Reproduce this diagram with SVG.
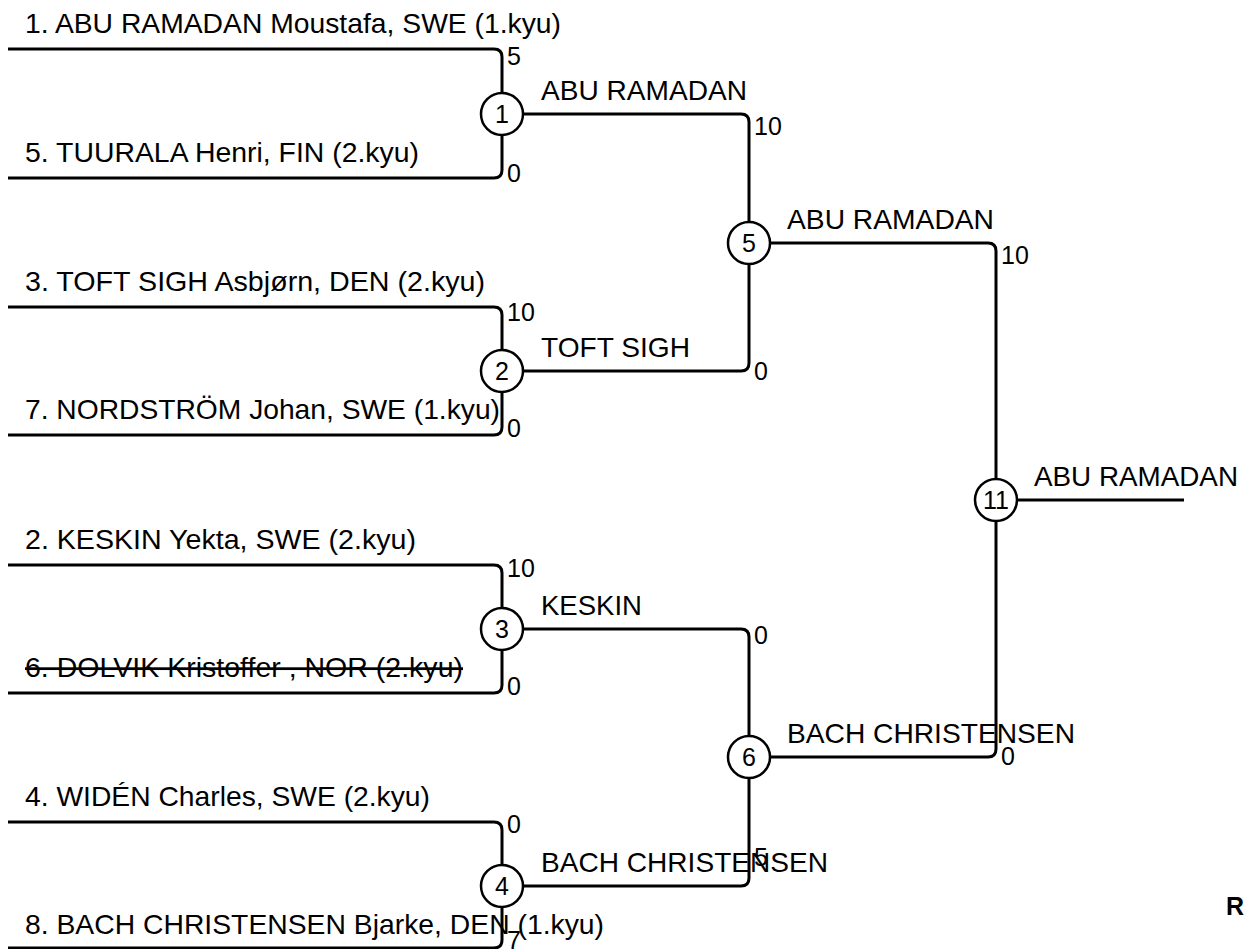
<svg xmlns="http://www.w3.org/2000/svg" width="1245" height="949" viewBox="0 0 1245 949">
<style>
.ln{fill:none;stroke:#000;stroke-width:3}
.c{fill:#fff;stroke:#000;stroke-width:2.5}
.t{font-family:"Liberation Sans",Arial,sans-serif;font-size:27.5px;fill:#000}
.s{font-family:"Liberation Sans",Arial,sans-serif;font-size:25px;fill:#000}
.n{font-family:"Liberation Sans",Arial,sans-serif;font-size:25px;fill:#000;text-anchor:middle}
.b{font-family:"Liberation Sans",Arial,sans-serif;font-size:25px;font-weight:bold;fill:#000}
</style>
<rect width="1245" height="949" fill="#fff"/>
<g id="connectors">
<path class="ln" d="M8 49 H494 Q502 49 502 57 V93"/>
<path class="ln" d="M8 178 H494 Q502 178 502 170 V135"/>
<path class="ln" d="M8 307 H494 Q502 307 502 315 V350"/>
<path class="ln" d="M8 435 H494 Q502 435 502 427 V392"/>
<path class="ln" d="M8 565 H494 Q502 565 502 573 V608"/>
<path class="ln" d="M8 693 H494 Q502 693 502 685 V650"/>
<path class="ln" d="M8 822 H494 Q502 822 502 830 V865"/>
<path class="ln" d="M8 948 H494 Q502 948 502 940 V907"/>
<path class="ln" d="M523 114 H741 Q749 114 749 122 V222"/>
<path class="ln" d="M523 371 H741 Q749 371 749 363 V264"/>
<path class="ln" d="M523 629 H741 Q749 629 749 637 V736"/>
<path class="ln" d="M523 886 H741 Q749 886 749 878 V778"/>
<path class="ln" d="M770 243 H988 Q996 243 996 251 V479"/>
<path class="ln" d="M770 757 H988 Q996 757 996 749 V521"/>
<path class="ln" d="M1017 500 H1184"/>
</g>
<g id="players">
<text class="t" x="25" y="33" textLength="536" lengthAdjust="spacingAndGlyphs">1. ABU RAMADAN Moustafa, SWE (1.kyu)</text>
<text class="t" x="25" y="162" textLength="394" lengthAdjust="spacingAndGlyphs">5. TUURALA Henri, FIN (2.kyu)</text>
<text class="t" x="25" y="291" textLength="460" lengthAdjust="spacingAndGlyphs">3. TOFT SIGH Asbjørn, DEN (2.kyu)</text>
<text class="t" x="25" y="419" textLength="475" lengthAdjust="spacingAndGlyphs">7. NORDSTRÖM Johan, SWE (1.kyu)</text>
<text class="t" x="25" y="549" textLength="391" lengthAdjust="spacingAndGlyphs">2. KESKIN Yekta, SWE (2.kyu)</text>
<text class="t" x="25" y="677" textLength="438" lengthAdjust="spacingAndGlyphs" text-decoration="line-through">6. DOLVIK Kristoffer , NOR (2.kyu)</text>
<text class="t" x="25" y="806" textLength="405" lengthAdjust="spacingAndGlyphs">4. WIDÉN Charles, SWE (2.kyu)</text>
<text class="t" x="25" y="934" textLength="579" lengthAdjust="spacingAndGlyphs">8. BACH CHRISTENSEN Bjarke, DEN (1.kyu)</text>
</g>
<g id="m1"><circle class="c" cx="502" cy="114" r="21"/><text class="n" x="502" y="123">1</text><text class="s" x="507" y="65">5</text><text class="s" x="507" y="182">0</text><text class="t" x="541" y="100" textLength="206" lengthAdjust="spacingAndGlyphs">ABU RAMADAN</text></g>
<g id="m2"><circle class="c" cx="502" cy="371" r="21"/><text class="n" x="502" y="380">2</text><text class="s" x="507" y="321">10</text><text class="s" x="507" y="437">0</text><text class="t" x="541" y="357" textLength="149" lengthAdjust="spacingAndGlyphs">TOFT SIGH</text></g>
<g id="m3"><circle class="c" cx="502" cy="629" r="21"/><text class="n" x="502" y="638">3</text><text class="s" x="507" y="577">10</text><text class="s" x="507" y="695">0</text><text class="t" x="541" y="615" textLength="101" lengthAdjust="spacingAndGlyphs">KESKIN</text></g>
<g id="m4"><circle class="c" cx="502" cy="886" r="21"/><text class="n" x="502" y="895">4</text><text class="s" x="507" y="833">0</text><text class="s" x="507" y="949">7</text><text class="t" x="541" y="872" textLength="287" lengthAdjust="spacingAndGlyphs">BACH CHRISTENSEN</text></g>
<g id="m5"><circle class="c" cx="749" cy="243" r="21"/><text class="n" x="749" y="252">5</text><text class="s" x="754" y="135">10</text><text class="s" x="754" y="380">0</text><text class="t" x="787" y="229" textLength="207" lengthAdjust="spacingAndGlyphs">ABU RAMADAN</text></g>
<g id="m6"><circle class="c" cx="749" cy="757" r="21"/><text class="n" x="749" y="766">6</text><text class="s" x="754" y="644">0</text><text class="s" x="754" y="866">5</text><text class="t" x="787" y="743" textLength="288" lengthAdjust="spacingAndGlyphs">BACH CHRISTENSEN</text></g>
<g id="m11"><circle class="c" cx="996" cy="500" r="21"/><text class="n" x="996" y="509">11</text><text class="s" x="1001" y="264">10</text><text class="s" x="1001" y="765">0</text><text class="t" x="1034" y="486" textLength="204" lengthAdjust="spacingAndGlyphs">ABU RAMADAN</text></g>
<g id="corner"><text class="b" x="1226" y="915">R</text></g>
</svg>
